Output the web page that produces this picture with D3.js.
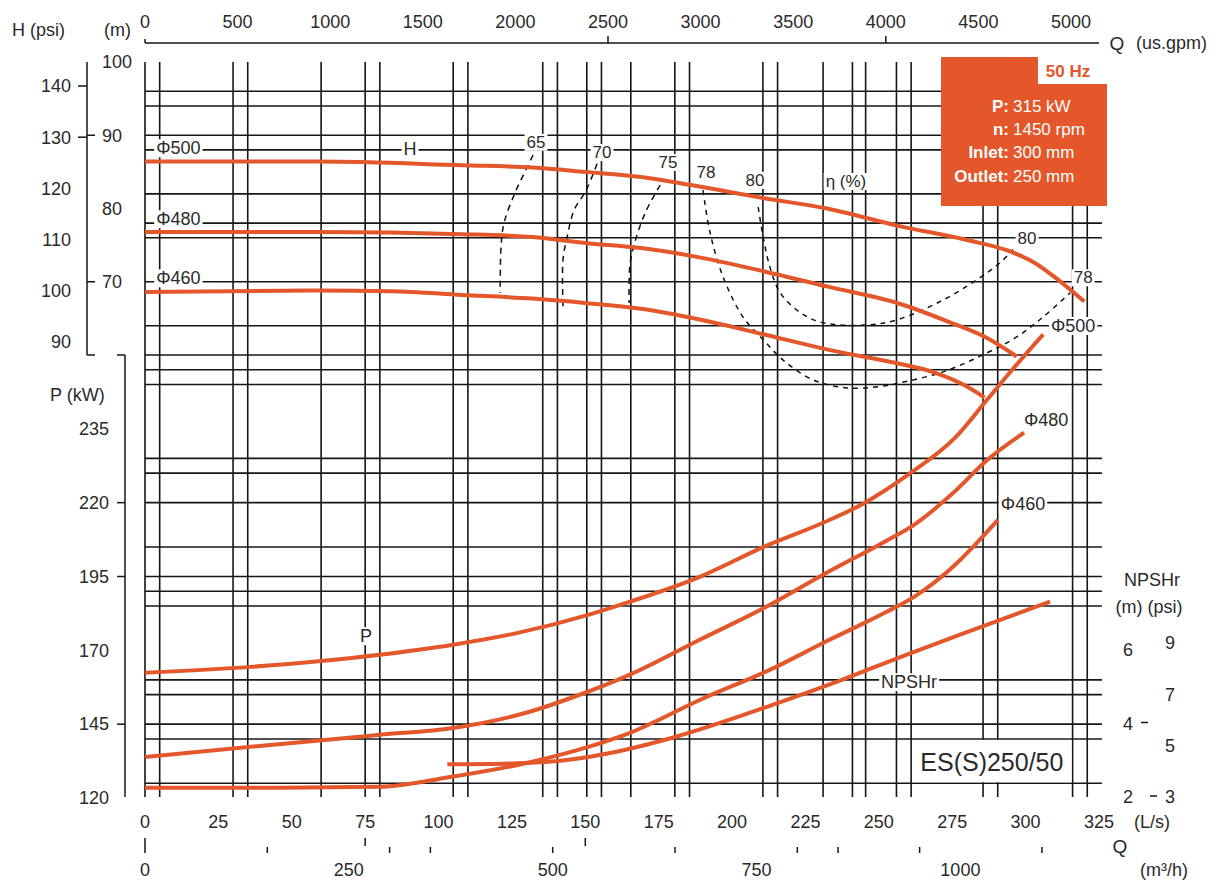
<!DOCTYPE html>
<html><head><meta charset="utf-8">
<script src="https://cdn.jsdelivr.net/npm/d3@7"></script>
<style>
html,body{margin:0;padding:0;background:#fff;}
svg{display:block;font-family:"Liberation Sans",Arial,Helvetica,sans-serif;}
</style></head><body>
<svg id="chart" width="1228" height="880"></svg>
<script>
// ---------- tick labels / axes ----------
const Q_LS_TICKS = [0,25,50,75,100,125,150,175,200,225,250,275,300,325];
const GPM_LABELS = [0,500,1000,1500,2000,2500,3000,3500,4000,4500,5000];
const GPM_TICKS = [0,2500,4000];
const M3H_LABELS = [0,250,500,750,1000];
const M3H_TICKS_LONG = [0];
const M3H_TICKS_MID = [270,540];
const M3H_TICKS_SHORT = [150,300,350,500,650,800,850,950,1100];
const HEAD_M_TICKS = [100,90,80,70];
const HEAD_M_TICKMARKS = [90,70];
const HEAD_PSI_TICKS = [140,130,120,110,100,90];
const HEAD_PSI_TICKMARKS = [140,130];
const P_TICK_VALUES = [120,145,170,195,220,245];
const P_TICK_LABELS = ["120","145","170","195","220","235"];
const P_TICKMARKS = [220,195,145];
const NPSH_M_TICKS = [2,4,6];
const NPSH_PSI_TICKS = [3,5,7,9];

// ---------- grid (L/s, m, kW) ----------
const GRID_Q = [0,5,30,35,60,75,80,105,110,135.5,140.5,150.5,155.5,165.5,180.5,185.5,210.5,215.5,231,241,245.5,256,261,285.5,290.5,316,321];
const GRID_H = [96,94,90,88,82,78,76,70,64,60];
const GRID_P = [265,260,235,230,220,205,195,190,185,160,155,145,140,125];

// ---------- series: head H (m) vs Q (L/s) ----------
const H_500 = [[0,86.4],[59,86.4],[108,85.9],[132,85.6],[150,85.0],[169,84.3],[186,83.2],[211,81.4],[231,80.1],[257,77.6],[280,75.7],[295,74.1],[303,72.6],[311,70.3],[320,67.3]];
const H_480 = [[0,76.8],[59,76.8],[108,76.5],[132,76.1],[150,75.3],[169,74.6],[188,73.4],[211,71.4],[233,69.3],[257,67.0],[274,64.5],[287,62.3],[297,59.8]];
const H_460 = [[0,68.6],[59,68.8],[84,68.7],[108,68.2],[132,67.7],[150,67.1],[169,66.3],[194,64.4],[211,62.8],[233,60.7],[257,58.8],[269,57.6],[280,55.7],[286,54.2]];

// ---------- series: power P (kW) vs Q ----------
const P_500 = [[0,162.4],[36,164.4],[80,168.5],[105,171.9],[127,175.9],[151,182],[165,186.4],[189,194.9],[211,205.1],[231,213.2],[244,219.3],[260,229.5],[276,242],[287,255],[295,264.5],[306,277]];
const P_480 = [[0,133.9],[39,137.6],[80,141.4],[105,143.7],[131,149.2],[146,154.2],[165,161.7],[189,173.6],[211,184.4],[231,195.6],[252,206.8],[262,212.5],[275,223],[287,234.5],[299.5,243.7]];
const P_460 = [[0,123.5],[40,123.5],[80,123.8],[104,127.1],[127,131.2],[151,137.3],[165,142],[189,153.2],[215,164.4],[231,172.5],[252,182.7],[262,188.1],[276,199],[283,206],[290.6,214.2]];

// ---------- series: NPSHr (m) vs Q ----------
const NPSH = [[103,2.89],[127,2.92],[143,3.0],[158,3.19],[180,3.62],[215,4.54],[236.5,5.16],[260,5.89],[283.5,6.59],[308.3,7.32]];

// ---------- iso-efficiency lines (Q, H) ----------
const ETA_65 = [[132.2,87.3],[129.8,85.3],[126,82.1],[122.3,78.0],[121.3,74.8],[121,68.5]];
const ETA_70 = [[154,86.1],[150.3,82.5],[146.2,79.8],[143.8,76.1],[142.4,73.0],[142.4,66.6]];
const ETA_75 = [[175.5,83.2],[170.4,79.4],[166.6,75.0],[165.2,72.3],[164.9,67.1]];
const ETA_78 = [[190.1,82.5],[192.5,76.7],[196.9,70.7],[203.7,65.2],[210.6,62.1],[217.4,59.3],[227.6,56.6],[239.2,55.5],[250.4,55.7],[257.2,56.2],[271.9,57.7],[286.9,60.3],[297.1,62.5],[306,65.2],[315.2,68.5]];
const ETA_80 = [[208.9,80.2],[210.6,76.1],[212.9,72.0],[216.4,68.5],[223.2,65.8],[231,64.4],[246,64.1],[256.2,64.8],[270.9,67.3],[283.5,70.3],[291.3,72.6],[295.7,74.4]];

// ---------- info ----------
const INFO_LABELS = ["P:","n:","Inlet:","Outlet:"];
const INFO_VALUES = ["315 kW","1450 rpm","300 mm","250 mm"];
const FREQ = "50 Hz";
const MODEL = "ES(S)250/50";

// ================= drawing =================
const ORANGE = "#E3572A";
const INK = "#161616";
const TXT = "#2a2a2a";
const FS = 18;
const svg = d3.select('#chart');

const x = d3.scaleLinear().domain([0,325]).range([145,1099]);
const yH = d3.scaleLinear().domain([60,100]).range([355,62]);
const yPsi = d3.scaleLinear().domain([90,140]).range([342,86]);
const yP = d3.scaleLinear().domain([120,270]).range([798,355]);
const yN = d3.scaleLinear().domain([2,6]).range([797,650]);
const yNpsi = d3.scaleLinear().domain([3,9]).range([797,643]);
const GPM_PER_LS = 15.85, M3H_PER_LS = 3.6;
const xG = v => x(v / GPM_PER_LS);
const xM = v => x(v / M3H_PER_LS);

function txt(g, s, px, py, o = {}) {
  return g.append('text').attr('x', px).attr('y', py).attr('dy', '0.35em')
    .attr('text-anchor', o.anchor || 'middle')
    .attr('font-size', o.size || FS)
    .attr('font-weight', o.weight || 'normal')
    .attr('fill', o.fill || TXT).text(s);
}
function boxedLabel(g, s, px, py, o = {}) {
  const gg = g.append('g');
  const r = gg.append('rect').attr('fill', '#fff');
  const t = txt(gg, s, px, py, o);
  const b = t.node().getBBox();
  const pad = o.pad == null ? 2 : o.pad;
  r.attr('x', b.x - pad).attr('y', b.y + 1).attr('width', b.width + 2 * pad).attr('height', b.height - 2);
  return gg;
}

// grid
const gridG = svg.append('g').attr('stroke', INK).attr('stroke-width', 1.6);
const gridBottom = yP(120) - 1, gridRight = x(326);
GRID_Q.forEach(q => gridG.append('line').attr('x1', x(q)).attr('x2', x(q)).attr('y1', yH(100)).attr('y2', gridBottom));
GRID_H.forEach(h => gridG.append('line').attr('x1', x(0)).attr('x2', gridRight).attr('y1', yH(h)).attr('y2', yH(h)));
GRID_P.forEach(p => gridG.append('line').attr('x1', x(0)).attr('x2', gridRight).attr('y1', yP(p)).attr('y2', yP(p)));

// top gpm axis
const topG = svg.append('g');
const topY = 43;
topG.append('line').attr('x1', x(0)).attr('x2', x(325)).attr('y1', topY).attr('y2', topY).attr('stroke', INK).attr('stroke-width', 1.5);
GPM_TICKS.forEach(v => topG.append('line').attr('x1', xG(v)).attr('x2', xG(v)).attr('y1', v === 0 ? topY - 4 : topY - 7).attr('y2', topY).attr('stroke', INK).attr('stroke-width', 1.5));
GPM_LABELS.forEach(v => txt(topG, String(v), xG(v), 22));
txt(topG, 'Q', 1117, 43, {size: 19});
txt(topG, '(us.gpm)', 1136, 43, {anchor: 'start'});

// left head axes
const leftG = svg.append('g').attr('stroke-width', 1.5);
txt(leftG, 'H (psi)', 12, 30, {anchor: 'start'});
txt(leftG, '(m)', 104, 30, {anchor: 'start'});
const axX = 87;
leftG.append('line').attr('x1', axX).attr('x2', axX).attr('y1', yH(100)).attr('y2', yH(60)).attr('stroke', INK);
leftG.append('line').attr('x1', axX).attr('x2', axX + 8).attr('y1', yH(60)).attr('y2', yH(60)).attr('stroke', INK);
HEAD_PSI_TICKMARKS.forEach(v => leftG.append('line').attr('x1', axX - 9).attr('x2', axX).attr('y1', yPsi(v)).attr('y2', yPsi(v)).attr('stroke', INK));
HEAD_M_TICKMARKS.forEach(v => leftG.append('line').attr('x1', axX).attr('x2', axX + 8).attr('y1', yH(v)).attr('y2', yH(v)).attr('stroke', INK));
HEAD_PSI_TICKS.forEach(v => txt(leftG, String(v), 71, yPsi(v), {anchor: 'end'}));
HEAD_M_TICKS.forEach(v => txt(leftG, String(v), 102, yH(v), {anchor: 'start'}));

// power axis
const pax = 125;
leftG.append('line').attr('x1', pax).attr('x2', pax).attr('y1', yP(270)).attr('y2', yP(120) - 1).attr('stroke', INK);
leftG.append('line').attr('x1', pax - 8).attr('x2', pax).attr('y1', yP(270)).attr('y2', yP(270)).attr('stroke', INK);
P_TICKMARKS.forEach(v => leftG.append('line').attr('x1', pax - 8).attr('x2', pax).attr('y1', yP(v)).attr('y2', yP(v)).attr('stroke', INK));
txt(leftG, 'P (kW)', 50, 395, {anchor: 'start'});
P_TICK_VALUES.forEach((v, i) => txt(leftG, P_TICK_LABELS[i], 109, yP(v), {anchor: 'end'}));

// bottom axes
const botG = svg.append('g');
Q_LS_TICKS.forEach(v => txt(botG, String(v), x(v), 822));
txt(botG, '(L/s)', 1134, 822, {anchor: 'start'});
txt(botG, 'Q', 1120, 846, {size: 19});
txt(botG, '(m³/h)', 1140, 870, {anchor: 'start'});
M3H_LABELS.forEach(v => txt(botG, String(v), xM(v), 870));
const tkG = botG.append('g').attr('stroke', INK).attr('stroke-width', 1.5);
M3H_TICKS_LONG.forEach(v => tkG.append('line').attr('x1', xM(v)).attr('x2', xM(v)).attr('y1', 838).attr('y2', 853));
M3H_TICKS_MID.forEach(v => tkG.append('line').attr('x1', xM(v)).attr('x2', xM(v)).attr('y1', 838).attr('y2', 846));
M3H_TICKS_SHORT.forEach(v => tkG.append('line').attr('x1', xM(v)).attr('x2', xM(v)).attr('y1', 847).attr('y2', 853));

// NPSH axis (right)
const rightG = svg.append('g');
txt(rightG, 'NPSHr', 1152, 580);
txt(rightG, '(m) (psi)', 1149, 607);
NPSH_M_TICKS.forEach(v => txt(rightG, String(v), 1128, yN(v)));
NPSH_PSI_TICKS.forEach(v => txt(rightG, String(v), 1170, yNpsi(v)));
[4, 2].forEach(v => rightG.append('line').attr('x1', v === 4 ? 1141 : 1150).attr('x2', v === 4 ? 1148 : 1157)
  .attr('y1', yN(v) - 1).attr('y2', yN(v) - 1).attr('stroke', INK).attr('stroke-width', 1.5));

// model box (white)
const mbG = svg.append('g');
mbG.append('rect').attr('x', x(261) + 1).attr('y', yP(140) + 1).attr('width', x(316) - x(261) - 2).attr('height', yP(125) - yP(140) - 2).attr('fill', '#fff');
txt(mbG, MODEL, (x(261) + x(316)) / 2, (yP(140) + yP(125)) / 2 + 1, {size: 25});

// efficiency curves
const effLine = d3.line().x(d => x(d[0])).y(d => yH(d[1])).curve(d3.curveCatmullRom.alpha(0.5));
const effG = svg.append('g').attr('fill', 'none').attr('stroke', '#111').attr('stroke-width', 1.5);
[[ETA_65, '6,5'], [ETA_70, '6,5'], [ETA_75, '6,5'], [ETA_78, '5,5'], [ETA_80, '5,5']].forEach(([d, dash]) =>
  effG.append('path').attr('d', effLine(d)).attr('stroke-dasharray', dash));

// red curves
const curvesG = svg.append('g').attr('fill', 'none').attr('stroke', ORANGE).attr('stroke-width', 4).attr('stroke-linecap', 'butt');
const lineH = d3.line().x(d => x(d[0])).y(d => yH(d[1])).curve(d3.curveMonotoneX);
const lineP = d3.line().x(d => x(d[0])).y(d => yP(d[1])).curve(d3.curveMonotoneX);
const lineN = d3.line().x(d => x(d[0])).y(d => yN(d[1])).curve(d3.curveMonotoneX);
[H_500, H_480, H_460].forEach(d => curvesG.append('path').attr('d', lineH(d)));
[P_500, P_480, P_460].forEach(d => curvesG.append('path').attr('d', lineP(d)));
curvesG.append('path').attr('d', lineN(NPSH));

// annotations
const annG = svg.append('g');
boxedLabel(annG, 'Φ500', x(3.8), yH(88.26), {anchor: 'start'});
boxedLabel(annG, 'Φ480', x(3.8), yH(78.57), {anchor: 'start'});
boxedLabel(annG, 'Φ460', x(3.8), yH(70.5), {anchor: 'start'});
boxedLabel(annG, 'H', x(90.3), yH(88.1));
boxedLabel(annG, 'P', x(75.3), yP(174.9));
boxedLabel(annG, 'Φ500', x(316.2), yH(64.0));
boxedLabel(annG, 'Φ480', x(307), yP(248));
boxedLabel(annG, 'Φ460', x(299.1), yP(219.6));
boxedLabel(annG, 'NPSHr', x(260.3), yP(159.3));
boxedLabel(annG, '65', x(133.2), yH(89.1), {size: 17});
boxedLabel(annG, '70', x(155.7), yH(87.7), {size: 17});
boxedLabel(annG, '75', x(178.2), yH(86.35), {size: 17});
boxedLabel(annG, '78', x(191.1), yH(85.0), {size: 17});
boxedLabel(annG, '80', x(207.8), yH(83.9), {size: 17});
boxedLabel(annG, 'η (%)', x(238.8), yH(83.75), {size: 17});
boxedLabel(annG, '80', x(300.5), yH(76.0), {size: 17});
boxedLabel(annG, '78', x(319.6), yH(70.6), {size: 17});

// info box
const ibG = svg.append('g');
ibG.append('rect').attr('x', 941).attr('y', 57).attr('width', 166).attr('height', 149).attr('fill', ORANGE);
ibG.append('rect').attr('x', 1038).attr('y', 57).attr('width', 69).attr('height', 27).attr('fill', '#fff');
txt(ibG, FREQ, 1068, 71, {weight: 'bold', fill: ORANGE, size: 17});
const rowsY = [106, 129, 152, 176];
INFO_LABELS.forEach((s, i) => txt(ibG, s, 1009, rowsY[i], {anchor: 'end', weight: 'bold', fill: '#fff', size: 17}));
INFO_VALUES.forEach((s, i) => txt(ibG, s, 1013, rowsY[i], {anchor: 'start', fill: '#fff', size: 17}));
</script>
</body></html>
